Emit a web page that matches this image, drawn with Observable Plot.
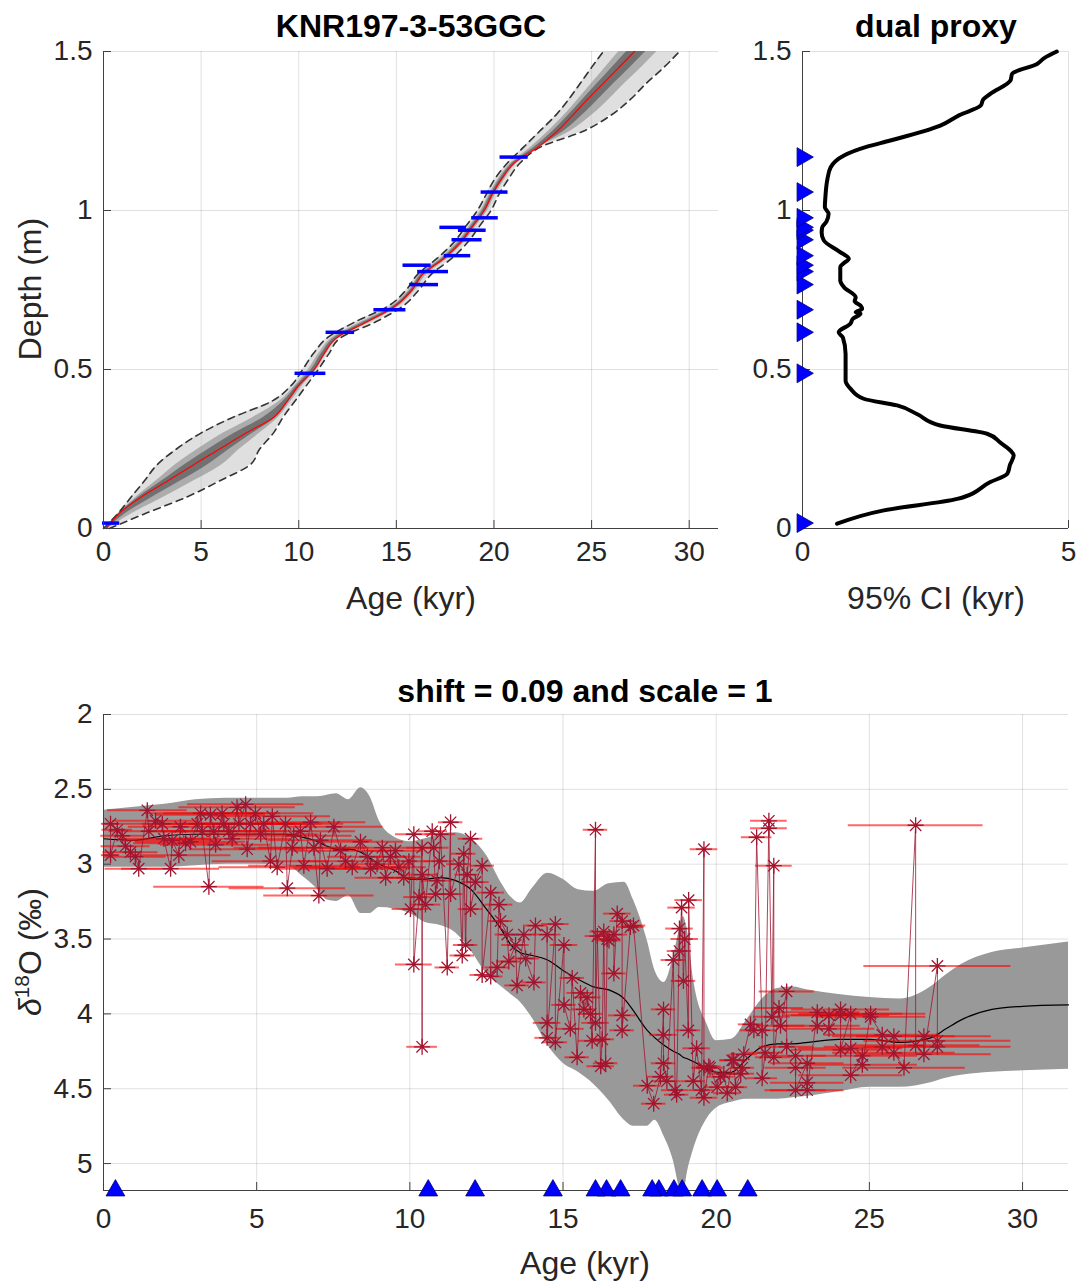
<!DOCTYPE html>
<html><head><meta charset="utf-8">
<script src="https://cdn.jsdelivr.net/npm/d3@7"></script>
<script src="https://cdn.jsdelivr.net/npm/@observablehq/plot@0.6"></script>
<style>
body{margin:0;background:#fff;font-family:"Liberation Sans",Arial,sans-serif;}
#root{position:relative;width:1081px;height:1285px;overflow:hidden;background:#fff;}
.panel{position:absolute;}
.t{position:absolute;white-space:nowrap;color:#000;transform:translate(-50%,-50%);line-height:1;}
.title{font-weight:bold;font-size:32px;}
.lab{font-size:32px;color:#262626;}
.rot{transform:translate(-50%,-50%) rotate(-90deg);}
sup{font-size:0.65em;vertical-align:0.6em;line-height:0;}
</style></head><body><div id="root"></div>
<script>
// ---------- top-left: age-depth model ----------
const adDepth = [0,0.05,0.1,0.15,0.2,0.25,0.3,0.35,0.4,0.45,0.5,0.55,0.6,0.65,0.7,0.75,0.8,0.85,0.9,0.95,1.0,1.05,1.1,1.15,1.2,1.25,1.3,1.35,1.4,1.45,1.5];
const adAgeLo  = [0.0,0.78,1.43,2.1,2.74,3.74,4.99,6.64,8.62,9.62,10.2,10.75,11.47,12.9,14.6,15.5,16.1,17.1,17.95,18.55,19.15,19.6,20.05,20.7,21.53,22.35,23.17,23.83,24.42,25.0,25.6];
const adAgeMed = [0.15,0.85,1.95,3.3,4.6,5.95,7.3,8.72,9.4,10.0,10.8,11.3,11.95,13.5,14.95,15.8,16.35,17.45,18.3,18.9,19.5,19.9,20.4,21.05,22.27,23.25,24.04,24.8,25.6,26.4,27.2];
const adAgeHi  = [0.3,2.26,4.3,5.96,7.5,8.0,8.7,9.2,9.8,10.4,11.0,11.55,12.15,13.95,15.35,16.15,16.8,17.85,18.65,19.25,19.85,20.25,20.75,21.35,22.4,24.6,26.0,27.0,27.8,28.7,29.5];

// radiocarbon dates
const dateDepth = [0.017,0.488,0.617,0.688,0.767,0.808,0.828,0.858,0.908,0.938,0.947,0.977,1.058,1.168];
const dateAge   = [0.39,10.6,12.13,14.67,16.42,16.88,16.06,18.13,18.62,18.89,17.91,19.54,20.03,21.03];
const dateErr   = [0.44,0.79,0.73,0.82,0.74,0.79,0.72,0.68,0.77,0.71,0.68,0.68,0.69,0.72];

// ---------- top-right: 95% CI width ----------
const ciDepth = [0.015,0.057,0.093,0.146,0.172,0.2,0.23,0.245,0.27,0.298,0.324,0.36,0.387,0.408,0.44,0.465,0.549,0.6,0.617,0.644,0.66,0.675,0.68,0.69,0.701,0.715,0.727,0.759,0.78,0.822,0.835,0.848,0.87,0.906,0.93,0.947,0.965,0.99,1.01,1.042,1.1,1.136,1.155,1.173,1.2,1.22,1.267,1.3,1.33,1.35,1.367,1.409,1.43,1.461,1.48,1.5];
const ciWidth = [0.65,1.53,2.91,3.53,3.85,3.9,3.97,3.91,3.72,3.47,2.59,2.15,1.78,1.15,0.9,0.81,0.81,0.76,0.68,0.9,0.95,1.09,1.0,1.12,1.09,0.98,1.0,0.78,0.71,0.71,0.78,0.87,0.7,0.40,0.36,0.37,0.45,0.49,0.42,0.43,0.47,0.53,0.62,0.78,1.2,1.65,2.59,2.95,3.35,3.4,3.53,3.91,3.94,4.41,4.55,4.78];

// ---------- bottom: d18O ----------
const bandAge = [0,1,2,3,4,5,6,6.5,7,7.3,7.6,8.0,8.4,8.7,9.0,9.5,10.0,10.5,11.0,11.5,12.0,12.5,13.0,13.3,13.6,14.0,14.5,15.0,15.5,16.0,16.5,17.0,17.3,17.75,18.0,18.3,18.6,18.8,18.92,19.06,19.27,19.7,20.0,20.5,21.0,21.5,22.0,22.5,23,24,25,26,27,27.5,28,29,30,31.5];
const bandTop = [2.64,2.62,2.60,2.57,2.56,2.56,2.56,2.55,2.55,2.54,2.53,2.57,2.49,2.55,2.71,2.82,2.85,2.83,2.80,2.79,2.83,2.94,3.13,3.22,3.26,3.16,3.06,3.10,3.17,3.18,3.13,3.12,3.24,3.51,3.71,3.79,3.62,3.44,3.35,3.44,3.78,4.07,4.18,4.17,4.04,3.90,3.83,3.82,3.84,3.87,3.89,3.90,3.82,3.74,3.67,3.59,3.56,3.52];
const bandBottom = [3.02,3.02,3.02,3.01,3.00,3.00,3.01,3.08,3.17,3.24,3.25,3.21,3.33,3.33,3.29,3.30,3.33,3.39,3.41,3.46,3.58,3.73,3.82,3.87,3.92,4.03,4.21,4.33,4.39,4.47,4.58,4.71,4.75,4.75,4.71,4.82,4.98,5.16,5.22,5.06,4.90,4.70,4.63,4.59,4.57,4.57,4.57,4.56,4.55,4.52,4.49,4.49,4.46,4.43,4.41,4.39,4.38,4.37];
const bandMedian = [2.83,2.84,2.81,2.80,2.80,2.80,2.80,2.82,2.85,2.88,2.90,2.90,2.92,2.96,3.00,3.04,3.10,3.10,3.09,3.11,3.17,3.30,3.44,3.54,3.59,3.61,3.64,3.71,3.77,3.82,3.84,3.90,3.98,4.11,4.16,4.21,4.25,4.27,4.29,4.30,4.32,4.37,4.39,4.39,4.30,4.22,4.20,4.20,4.19,4.17,4.17,4.19,4.16,4.10,4.04,3.97,3.95,3.94];

const proxyAge = [
0.23,0.23,0.45,0.61,0.72,0.88,1.04,1.15,1.43,1.48,
1.70,1.92,1.97,2.19,2.24,2.46,2.51,2.68,2.84,3.06,
3.17,3.22,3.44,3.49,3.60,3.66,3.87,3.93,4.09,4.20,
4.36,4.42,4.64,4.69,4.80,4.96,5.13,5.23,5.45,5.51,
5.67,5.94,6.00,6.16,6.21,6.43,6.54,6.76,6.87,7.03,
7.08,7.30,7.52,7.74,7.90,8.12,8.39,8.61,8.72,8.93,
9.10,9.21,9.37,9.53,9.64,9.80,9.97,10.02,10.13,10.13,
10.30,10.40,10.40,10.40,10.51,10.73,10.78,10.84,10.89,10.96,
11.00,11.22,11.33,11.33,11.60,11.71,11.76,11.82,11.87,11.98,
11.98,12.14,12.36,12.36,12.64,12.64,12.85,12.91,12.96,13.18,
13.23,13.45,13.50,13.72,13.78,14.05,14.10,14.48,14.48,14.48,
14.75,14.75,15.03,15.03,15.24,15.30,15.46,15.57,15.68,15.79,
15.90,15.95,16.06,16.06,16.12,16.23,16.28,16.33,16.39,16.44,
16.50,16.66,16.66,16.77,16.93,16.93,16.93,17.20,17.30,17.75,
17.96,18.18,18.28,18.28,18.28,18.39,18.60,18.66,18.71,18.80,
18.80,18.87,18.93,18.97,19.09,19.10,19.25,19.36,19.52,19.60,
19.60,19.60,19.76,19.80,20.03,20.14,20.25,20.36,20.52,20.57,
20.63,20.80,20.85,20.90,21.12,21.23,21.32,21.50,21.50,21.60,
21.72,21.72,21.82,21.88,21.88,22.05,22.10,22.30,22.30,22.59,
22.59,22.59,22.97,22.97,22.97,23.30,23.30,23.68,23.68,24.06,
24.06,24.06,24.39,24.39,24.39,24.77,24.77,25.04,25.04,25.42,
25.42,25.80,25.80,26.13,26.51,26.51,26.78,26.78,27.22,27.22,
27.22];
const proxyD18O = [
2.73,2.94,2.77,2.81,2.88,2.92,2.95,3.03,2.64,2.78,
2.71,2.73,2.83,3.03,2.84,2.94,2.75,2.86,2.85,2.73,
2.66,2.78,3.15,2.67,2.78,2.87,2.66,2.73,2.78,2.83,
2.62,2.73,2.60,2.90,2.73,2.66,2.80,2.73,2.98,2.68,
3.02,2.73,3.16,2.89,2.81,2.78,3.01,2.72,2.89,3.21,
2.84,3.03,2.75,2.91,2.98,3.02,2.85,2.95,3.03,3.00,
2.89,3.09,2.95,2.91,3.02,3.09,2.98,3.30,2.80,3.67,
3.22,2.89,4.22,3.07,3.27,2.78,2.89,3.20,3.11,2.98,
2.80,3.69,2.72,3.20,3.00,3.61,2.93,3.54,3.07,2.83,
3.30,3.12,3.01,3.74,3.19,3.75,3.69,3.27,3.38,3.47,
3.65,3.54,3.81,3.47,3.63,3.79,3.41,3.47,4.06,4.16,
3.40,4.19,3.54,3.94,4.10,3.76,4.29,3.86,3.97,3.89,
4.00,4.18,2.77,4.06,3.48,4.35,4.17,3.45,4.33,3.50,
3.51,3.47,3.73,3.33,3.38,4.01,4.11,3.42,3.41,4.48,
4.60,4.42,3.97,4.14,4.33,4.45,3.64,4.51,4.54,3.43,
3.58,3.29,3.78,3.50,4.11,3.24,4.45,4.23,4.51,2.90,
4.36,4.56,4.35,4.36,4.49,4.42,4.40,4.53,4.31,4.31,
4.49,4.40,4.36,4.27,4.07,4.11,2.82,4.11,4.43,4.26,
2.71,2.76,4.02,3.01,4.29,3.96,4.08,3.85,4.22,4.28,
4.36,4.51,4.33,4.46,4.51,3.99,4.08,4.01,4.10,3.97,
4.01,4.24,4.00,4.23,4.41,4.28,4.34,4.00,4.02,4.14,
4.22,4.15,4.26,4.36,2.74,4.21,4.15,4.27,3.68,4.18,
4.22];
const proxyAgeErr = [
0.3,0.3,0.5,0.7,0.8,0.9,1.0,1.1,1.3,1.3,
1.4,1.5,1.5,1.6,1.6,1.7,1.7,1.7,1.8,1.8,
1.8,1.8,1.8,1.8,1.8,1.8,1.9,1.9,1.9,1.9,
1.9,1.9,1.9,1.9,1.9,1.9,1.9,1.9,1.9,1.9,
1.9,1.9,1.9,1.9,1.9,1.8,1.8,1.8,1.8,1.8,
1.7,1.7,1.6,1.6,1.5,1.5,1.4,1.3,1.3,1.2,
1.1,1.0,1.0,0.9,0.9,0.8,0.7,0.6,0.6,0.6,
0.5,0.5,0.5,0.5,0.5,0.5,0.5,0.5,0.5,0.5,
0.5,0.4,0.4,0.4,0.4,0.4,0.4,0.4,0.4,0.4,
0.4,0.45,0.4,0.4,0.45,0.4,0.4,0.45,0.4,0.4,
0.4,0.45,0.4,0.4,0.45,0.4,0.4,0.45,0.45,0.4,
0.45,0.4,0.45,0.4,0.45,0.4,0.4,0.45,0.4,0.45,
0.4,0.45,0.4,0.45,0.4,0.45,0.4,0.45,0.4,0.45,
0.4,0.45,0.4,0.45,0.4,0.45,0.4,0.45,0.4,0.45,
0.4,0.45,0.4,0.45,0.4,0.45,0.4,0.45,0.4,0.45,
0.4,0.45,0.4,0.45,0.4,0.45,0.4,0.45,0.4,0.45,
0.4,0.45,0.4,0.45,0.4,0.45,0.4,0.45,0.4,0.45,
0.4,0.45,0.4,0.45,0.4,0.45,0.5,0.5,0.5,0.6,
0.6,0.6,0.6,0.6,0.6,0.8,0.8,0.9,0.9,1.0,
1.0,1.0,1.2,1.2,1.2,1.4,1.4,1.5,1.5,1.6,
1.6,1.6,1.7,1.7,1.7,1.8,1.8,1.8,1.8,1.9,
1.9,2.0,2.0,2.0,2.2,2.1,2.2,2.2,2.4,2.4,
2.4];

// tick values
const ageTicks = [0,5,10,15,20,25,30];
const depthTicks = [0,0.5,1,1.5];
const ciTicks = [0,5];
const d18OTicks = [2,2.5,3,3.5,4,4.5,5];

// ---- checks ----
if (proxyAge.length!==proxyD18O.length || proxyAge.length!==proxyAgeErr.length) throw new Error("proxy length mismatch");
if (bandAge.length!==bandTop.length||bandAge.length!==bandBottom.length||bandAge.length!==bandMedian.length) throw new Error("band mismatch");
if (adDepth.length!==adAgeLo.length||adDepth.length!==adAgeMed.length||adDepth.length!==adAgeHi.length) throw new Error("ad mismatch");
if (ciDepth.length!==ciWidth.length) throw new Error("ci mismatch "+ciDepth.length+" "+ciWidth.length);

// ---- tables ----
const adRows = adDepth.map((d,i)=>{
  const lo=adAgeLo[i], m=adAgeMed[i], hi=adAgeHi[i];
  return {d, lo, med:m, hi, l2:(lo+m)/2, h2:(m+hi)/2, l3:(lo+3*m)/4, h3:(3*m+hi)/4};
});
const dateRows = dateDepth.map((d,i)=>({d, a:dateAge[i], e:dateErr[i]}));
const ciRows = ciDepth.map((d,i)=>({d, w:ciWidth[i]}));
const bandRows = bandAge.map((a,i)=>({a, top:bandTop[i], bot:bandBottom[i], med:bandMedian[i]}));
const proxyRows = proxyAge.map((a,i)=>({a, v:proxyD18O[i], e:proxyAgeErr[i]}));

const FONT = "'Liberation Sans', Arial, sans-serif";
const baseStyle = {fontFamily: FONT, fontSize: "28px", color: "#262626", background: "transparent", overflow: "visible"};
const gridStyle = {stroke: "#000", strokeOpacity: 0.12, strokeWidth: 1};
const axisColor = "#404040";
const fmt = d => String(d);

const star = {draw(ctx, size){
  const r = Math.sqrt(size/Math.PI), q = r*0.7071;
  ctx.moveTo(-r,0); ctx.lineTo(r,0);
  ctx.moveTo(0,-r); ctx.lineTo(0,r);
  ctx.moveTo(-q,-q); ctx.lineTo(q,q);
  ctx.moveTo(-q,q); ctx.lineTo(q,-q);
}};

const root = document.getElementById("root");
function place(node, left, top){ node.classList.add("panel"); node.style.left=left+"px"; node.style.top=top+"px"; root.appendChild(node); }
function text(html, x, y, cls){ const d=document.createElement("div"); d.className="t "+cls; d.innerHTML=html; d.style.left=x+"px"; d.style.top=y+"px"; root.appendChild(d); }

// ---------- panel 1 ----------
{
  const W=730,H=620,mL=103,mR=12,mT=51,mB=92;
  const pw=W-mL-mR, ph=H-mT-mB;
  const p = Plot.plot({
    width:W, height:H, marginLeft:mL, marginRight:mR, marginTop:mT, marginBottom:mB,
    style: baseStyle,
    x:{domain:[0,31.5], ticks:ageTicks, tickSize:0, tickPadding:13, label:null, tickFormat:fmt},
    y:{domain:[0,1.5], ticks:depthTicks, tickSize:0, tickPadding:11, label:null, tickFormat:fmt},
    marks:[
      Plot.ruleX(ageTicks, gridStyle),
      Plot.ruleY(depthTicks, gridStyle),
      Plot.areaX(adRows, {y:"d", x1:"lo", x2:"hi", fill:"#c4c4c4", fillOpacity:0.55, curve:"monotone-y"}),
      Plot.areaX(adRows, {y:"d", x1:"l2", x2:"h2", fill:"#7a7a7a", fillOpacity:0.5, curve:"monotone-y"}),
      Plot.areaX(adRows, {y:"d", x1:"l3", x2:"h3", fill:"#2a2a2a", fillOpacity:0.45, curve:"monotone-y"}),
      Plot.line(adRows, {x:"lo", y:"d", stroke:"#333", strokeWidth:1.6, strokeDasharray:"7,5", curve:"monotone-y"}),
      Plot.line(adRows, {x:"hi", y:"d", stroke:"#333", strokeWidth:1.6, strokeDasharray:"7,5", curve:"monotone-y"}),
      Plot.line(adRows, {x:"med", y:"d", stroke:"#ff0000", strokeWidth:1.2, curve:"monotone-y"}),
      Plot.ruleY(dateRows, {y:"d", x1:r=>r.a-r.e, x2:r=>r.a+r.e, stroke:"#0000ff", strokeWidth:3.5}),
      Plot.tickX(ageTicks, {x:d=>d, stroke:axisColor, insetTop:ph-8}),
      Plot.tickY(depthTicks, {y:d=>d, stroke:axisColor, insetRight:pw-8}),
      Plot.ruleX([0], {stroke:axisColor}),
      Plot.ruleY([0], {stroke:axisColor})
    ]
  });
  place(p, 0, 0);
}
// ---------- panel 2 ----------
{
  const W=351,H=620,mL=72,mR=13,mT=51,mB=92;
  const pw=W-mL-mR, ph=H-mT-mB;
  const p = Plot.plot({
    width:W, height:H, marginLeft:mL, marginRight:mR, marginTop:mT, marginBottom:mB,
    style: baseStyle,
    x:{domain:[0,5], ticks:ciTicks, tickSize:0, tickPadding:13, label:null, tickFormat:fmt},
    y:{domain:[0,1.5], ticks:depthTicks, tickSize:0, tickPadding:11, label:null, tickFormat:fmt},
    marks:[
      Plot.ruleX(ciTicks, gridStyle),
      Plot.ruleY(depthTicks, gridStyle),
      Plot.line(ciRows, {x:"w", y:"d", stroke:"#000", strokeWidth:4, strokeLinejoin:"round", curve:"monotone-y"}),
      Plot.tickX(ciTicks, {x:d=>d, stroke:axisColor, insetTop:ph-8}),
      Plot.tickY(depthTicks, {y:d=>d, stroke:axisColor, insetRight:pw-8}),
      Plot.ruleX([0], {stroke:axisColor}),
      Plot.ruleY([0], {stroke:axisColor}),
      Plot.dot(dateRows, {x:()=>0, y:"d", symbol:"triangle", rotate:90, r:7, fill:"#0000ff", stroke:"#00007a", strokeWidth:0.8})
    ]
  });
  place(p, 730, 0);
}
// ---------- panel 3 ----------
{
  const W=1081,H=645,mL=103,mR=13,mT=74,mB=95;
  const pw=W-mL-mR, ph=H-mT-mB;
  const yMax = 5.18;
  const p = Plot.plot({
    width:W, height:H, marginLeft:mL, marginRight:mR, marginTop:mT, marginBottom:mB,
    style: baseStyle,
    x:{domain:[0,31.5], ticks:ageTicks, tickSize:0, tickPadding:18, label:null, tickFormat:fmt},
    y:{domain:[2,yMax], reverse:true, ticks:d18OTicks, tickSize:0, tickPadding:11, label:null, tickFormat:fmt},
    marks:[
      Plot.ruleX(ageTicks, gridStyle),
      Plot.ruleY(d18OTicks, gridStyle),
      Plot.areaY(bandRows, {x:"a", y1:"top", y2:"bot", fill:"#999999", curve:"monotone-x", clip:true}),
      Plot.line(bandRows, {x:"a", y:"med", stroke:"#000", strokeWidth:1.2, curve:"monotone-x"}),
      Plot.ruleY(proxyRows, {y:"v", x1:r=>r.a-r.e, x2:r=>r.a+r.e, stroke:"#ff0000", strokeOpacity:0.6, strokeWidth:2}),
      Plot.line(proxyRows, {x:"a", y:"v", stroke:"#a2142f", strokeOpacity:0.8, strokeWidth:1}),
      Plot.dot(proxyRows, {x:"a", y:"v", symbol:star, r:8, fill:"none", stroke:"#a2142f", strokeWidth:1.3}),
      Plot.tickX(ageTicks, {x:d=>d, stroke:axisColor, insetTop:ph-8}),
      Plot.tickY(d18OTicks, {y:d=>d, stroke:axisColor, insetRight:pw-8}),
      Plot.ruleX([0], {stroke:axisColor}),
      Plot.ruleY([yMax], {stroke:axisColor}),
      Plot.dot(dateRows, {x:"a", y:()=>yMax, symbol:"triangle", r:7, fill:"#0000ff", stroke:"#00007a", strokeWidth:0.8})
    ]
  });
  place(p, 0, 640);
}

// ---------- text ----------
text("KNR197-3-53GGC", 411, 26, "title");
text("dual proxy", 936, 26, "title");
text("shift = 0.09 and scale = 1", 585, 691, "title");
text("Depth (m)", 30, 289, "lab rot");
text("Age (kyr)", 411, 598, "lab");
text("95% CI (kyr)", 936, 598, "lab");
text("<i>δ</i><sup>18</sup>O (‰)", 30, 952, "lab rot");
text("Age (kyr)", 585, 1263, "lab");
</script></body></html>
